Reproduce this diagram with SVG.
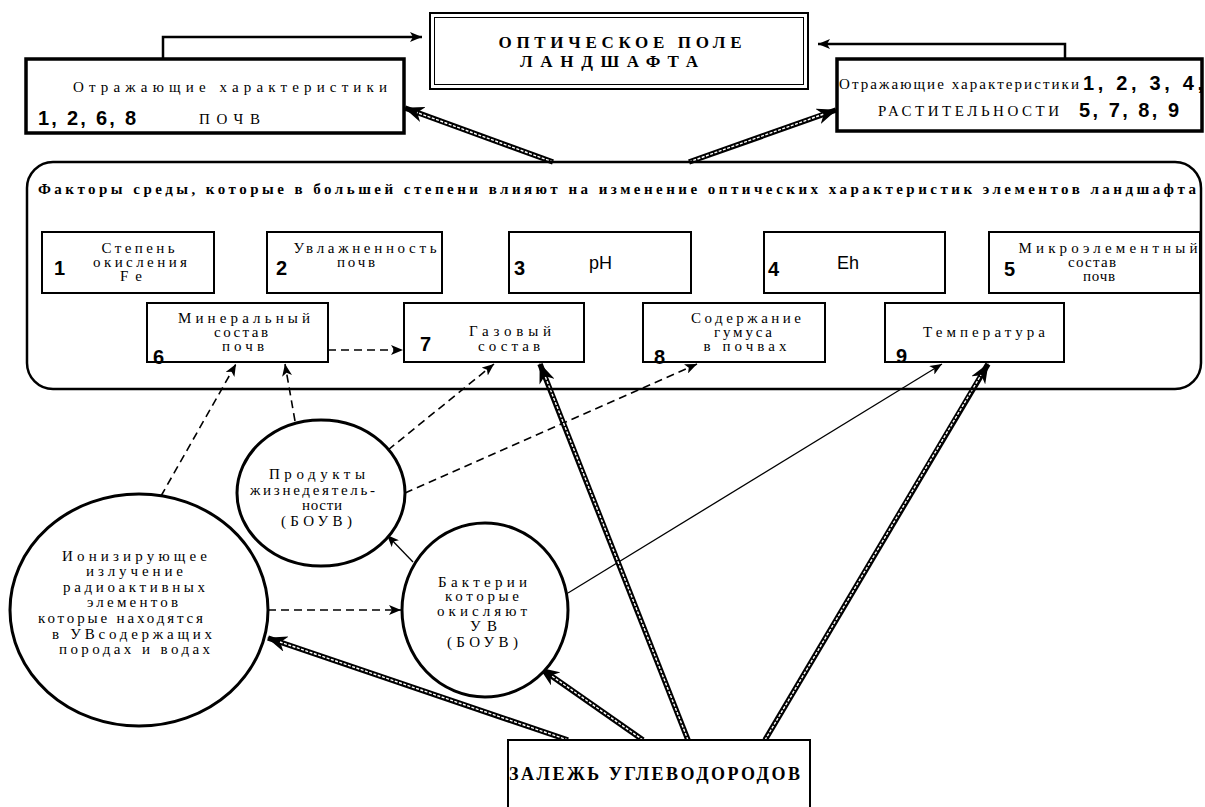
<svg xmlns="http://www.w3.org/2000/svg" width="1205" height="807" viewBox="0 0 1205 807">
<style>
.bg{fill:#fff}
.box{fill:#fff;stroke:#000;stroke-width:2}
.bbox{fill:#fff;stroke:#000;stroke-width:3.5}
.ell{fill:#fff;stroke:#000;stroke-width:3}
.t{font-family:"Liberation Serif","Times New Roman",serif;font-size:15px;fill:#000}
.tc{text-anchor:middle}
.tb{font-family:"Liberation Serif","Times New Roman",serif;font-weight:bold;fill:#000}
.num{font-family:"Liberation Sans",Arial,sans-serif;font-weight:bold;font-size:20px;fill:#000}
.sans{font-family:"Liberation Sans",Arial,sans-serif;font-size:18px;fill:#000}
.dblo{stroke:#000;stroke-width:5.5;fill:none}
.dbli{stroke:#fff;stroke-width:1.4;stroke-dasharray:3 1.5;fill:none}
.thin{stroke:#000;stroke-width:1.3;fill:none}
.dash{stroke:#000;stroke-width:1.6;stroke-dasharray:8 5;fill:none}
.elb{stroke:#000;stroke-width:2.5;fill:none}
</style>
<defs>
<marker id="hd" viewBox="0 0 20 16" markerUnits="userSpaceOnUse" markerWidth="20" markerHeight="16" refX="19" refY="8" orient="auto"><path d="M0,0 L20,8 L0,16 L6,8 z" fill="#000"/></marker>
<marker id="th" viewBox="0 0 12 10" markerUnits="userSpaceOnUse" markerWidth="12" markerHeight="10" refX="12" refY="5" orient="auto"><path d="M0,0 L12,5 L0,10 L3,5 z" fill="#000"/></marker>
</defs>
<rect class="bg" x="0" y="0" width="1205" height="807"/>

<g id="connectors">
  <polyline class="elb" points="163,59 163,37 422,37" marker-end="url(#th)"/>
  <polyline class="elb" points="1065,59 1065,44 818,44" marker-end="url(#th)"/>
  <line class="dblo" x1="553" y1="162" x2="405" y2="108" marker-end="url(#hd)"/>
  <line class="dbli" x1="553" y1="162" x2="417" y2="112.5"/>
  <line class="dblo" x1="689" y1="162" x2="836" y2="110" marker-end="url(#hd)"/>
  <line class="dbli" x1="689" y1="162" x2="824" y2="114"/>
  <line class="dash" x1="328" y1="350" x2="403" y2="350" marker-end="url(#th)"/>
  <line class="dash" x1="161" y1="496" x2="236" y2="364" marker-end="url(#th)"/>
  <line class="dash" x1="295" y1="421" x2="285" y2="364" marker-end="url(#th)"/>
  <line class="dash" x1="388" y1="450" x2="494" y2="364" marker-end="url(#th)"/>
  <line class="dash" x1="405" y1="493" x2="697" y2="364" marker-end="url(#th)"/>
  <line class="thin" x1="568" y1="593" x2="942" y2="364" marker-end="url(#th)"/>
  <line class="thin" x1="413" y1="562" x2="387" y2="535" marker-end="url(#th)"/>
  <line class="dash" x1="268" y1="610" x2="401" y2="610" marker-end="url(#th)"/>
  <line class="dblo" x1="568" y1="740" x2="268" y2="638" marker-end="url(#hd)"/>
  <line class="dbli" x1="568" y1="740" x2="280" y2="642"/>
  <line class="dblo" x1="643" y1="740" x2="540" y2="668" marker-end="url(#hd)"/>
  <line class="dbli" x1="643" y1="740" x2="551" y2="675.5"/>
  <line class="dblo" x1="688" y1="740" x2="540" y2="364" marker-end="url(#hd)"/>
  <line class="dbli" x1="688" y1="740" x2="545" y2="376"/>
  <line class="dblo" x1="765" y1="740" x2="988" y2="364" marker-end="url(#hd)"/>
  <line class="dbli" x1="765" y1="740" x2="981" y2="375"/>
</g>

<g id="title">
  <rect x="430" y="13" width="378" height="76" fill="#fff" stroke="#000" stroke-width="2"/>
  <rect x="434.5" y="17.5" width="369" height="67" fill="none" stroke="#000" stroke-width="1"/>
  <text class="tb tc" x="620" y="48" font-size="17" textLength="243">ОПТИЧЕСКОЕ ПОЛЕ</text>
  <text class="tb tc" x="609" y="67" font-size="17" textLength="178">ЛАНДШАФТА</text>
</g>

<g id="soil">
  <rect class="bbox" x="26" y="59" width="378" height="74"/>
  <text class="t" x="73" y="92" font-size="19" textLength="314">Отражающие характеристики</text>
  <text class="num" x="38" y="125" font-size="21" textLength="98">1, 2, 6, 8</text>
  <text class="t" x="199" y="124" font-size="18" textLength="61">ПОЧВ</text>
</g>

<g id="veg">
  <rect class="bbox" x="837" y="59" width="365" height="72"/>
  <text class="t" x="839" y="89" font-size="16" textLength="240">Отражающие характеристики</text>
  <text class="num" x="1083" y="90" font-size="21" textLength="120">1, 2, 3, 4,</text>
  <text class="t" x="878" y="116" font-size="17" textLength="181">РАСТИТЕЛЬНОСТИ</text>
  <text class="num" x="1079" y="117" font-size="21" textLength="100">5, 7, 8, 9</text>
</g>

<g id="factors">
  <rect x="27" y="162" width="1174" height="227" rx="26" ry="26" fill="none" stroke="#000" stroke-width="2.5"/>
  <text class="tb" x="38" y="194" font-size="15" textLength="1158">Факторы среды, которые в большей степени влияют на изменение оптических характеристик элементов ландшафта</text>
</g>

<g id="f1">
  <rect class="box" x="42" y="232" width="172" height="61"/>
  <text class="num" x="54" y="275">1</text>
  <text class="t tc" x="138" y="253" textLength="73">Степень</text>
  <text class="t tc" x="140" y="267" textLength="94">окисления</text>
  <text class="t tc" x="131" y="281" textLength="22">Fe</text>
</g>
<g id="f2">
  <rect class="box" x="267" y="232" width="175" height="61"/>
  <text class="num" x="276" y="275">2</text>
  <text class="t tc" x="365" y="253" textLength="143">Увлажненность</text>
  <text class="t tc" x="356" y="267" textLength="38">почв</text>
</g>
<g id="f3">
  <rect class="box" x="509" y="232" width="182" height="61"/>
  <text class="num" x="514" y="275">3</text>
  <text class="sans" x="589" y="269">pH</text>
</g>
<g id="f4">
  <rect class="box" x="764" y="232" width="181" height="61"/>
  <text class="num" x="768" y="276">4</text>
  <text class="sans" x="837" y="269">Eh</text>
</g>
<g id="f5">
  <rect class="box" x="989" y="232" width="211" height="61"/>
  <text class="num" x="1004" y="276">5</text>
  <text class="t tc" x="1108" y="253" textLength="179">Микроэлементный</text>
  <text class="t tc" x="1092" y="267" textLength="48">состав</text>
  <text class="t tc" x="1099" y="281" textLength="32">почв</text>
</g>
<g id="f6">
  <rect class="box" x="147" y="303" width="181" height="59"/>
  <text class="t tc" x="244" y="323" textLength="132">Минеральный</text>
  <text class="t tc" x="241" y="337" textLength="54">состав</text>
  <text class="t tc" x="243" y="351" textLength="42">почв</text>
  <text class="num" x="153" y="364" font-size="17">6</text>
</g>
<g id="f7">
  <rect class="box" x="404" y="303" width="180" height="59"/>
  <text class="num" x="420" y="351">7</text>
  <text class="t tc" x="510" y="336" textLength="82">Газовый</text>
  <text class="t tc" x="509" y="351" textLength="62">состав</text>
</g>
<g id="f8">
  <rect class="box" x="643" y="303" width="182" height="59"/>
  <text class="t tc" x="746" y="323" textLength="110">Содержание</text>
  <text class="t tc" x="743" y="337" textLength="58">гумуса</text>
  <text class="t tc" x="745" y="351" textLength="83">в почвах</text>
  <text class="num" x="654" y="364" font-size="17">8</text>
</g>
<g id="f9">
  <rect class="box" x="885" y="303" width="179" height="59"/>
  <text class="t tc" x="984" y="337" textLength="122">Температура</text>
  <text class="num" x="896" y="363" font-size="17">9</text>
</g>

<g id="ionizing">
  <ellipse class="ell" cx="139" cy="610" rx="129" ry="116"/>
  <text class="t" x="62" y="561" textLength="145">Ионизирующее</text>
  <text class="t" x="86" y="576" textLength="97">излучение</text>
  <text class="t" x="63" y="592" textLength="142">радиоактивных</text>
  <text class="t" x="87" y="607" textLength="91">элементов</text>
  <text class="t" x="38" y="623" textLength="165">которые находятся</text>
  <text class="t" x="52" y="639" textLength="160">в УВсодержащих</text>
  <text class="t" x="59" y="654" textLength="151">породах и водах</text>
</g>

<g id="products">
  <ellipse class="ell" cx="321" cy="493" rx="84" ry="73"/>
  <text class="t" x="269" y="479" textLength="96">Продукты</text>
  <text class="t" x="250" y="495" textLength="125">жизнедеятель-</text>
  <text class="t" x="302" y="510" textLength="40">ности</text>
  <text class="t" x="281" y="526" textLength="71">(БОУВ)</text>
</g>

<g id="bacteria">
  <ellipse class="ell" cx="485" cy="610" rx="83" ry="87"/>
  <text class="t" x="438" y="587" textLength="89">Бактерии</text>
  <text class="t" x="445" y="601" textLength="74">которые</text>
  <text class="t" x="437" y="616" textLength="90">окисляют</text>
  <text class="t" x="470" y="631" textLength="27">УВ</text>
  <text class="t" x="447" y="647" textLength="71">(БОУВ)</text>
</g>

<g id="deposit">
  <rect class="box" x="508" y="740" width="302" height="80"/>
  <text class="tb" x="509" y="780" font-size="18" textLength="291">ЗАЛЕЖЬ УГЛЕВОДОРОДОВ</text>
</g>
</svg>
